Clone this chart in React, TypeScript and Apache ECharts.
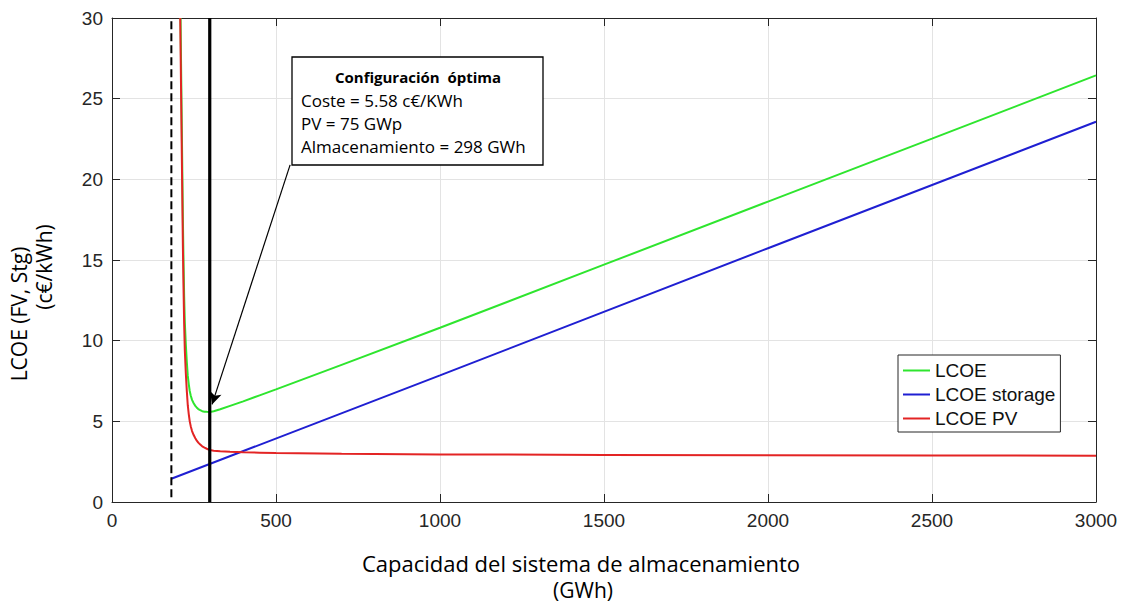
import React, { useEffect, useRef } from "react";
import * as echarts from "echarts";

// Storage capacity (GWh) sampled along each curve, with LCOE values (c€/kWh)
const pvCapacity = [208, 210, 212, 214, 216, 218, 220, 222, 225, 228, 231, 234, 237, 240, 244, 249, 254, 258, 263, 269, 275, 282, 289, 298, 310, 330, 360, 400, 450, 500, 700, 1000, 1500, 2000, 2500, 3000];
const pvLcoe = [30, 26.5, 23, 19.5, 16, 13.3, 11, 9.4, 8, 6.9, 6.0, 5.45, 5.0, 4.7, 4.4, 4.15, 3.95, 3.82, 3.68, 3.56, 3.45, 3.37, 3.3, 3.22, 3.18, 3.14, 3.11, 3.08, 3.06, 3.04, 2.99, 2.95, 2.92, 2.9, 2.88, 2.87];

const totalCapacity = [209, 210, 212, 214, 216, 218, 220, 222, 225, 228, 231, 234, 237, 240, 244, 249, 254, 258, 263, 269, 275, 282, 289, 298, 310, 330, 360, 400, 450, 500, 700, 1000, 1500, 2000, 2500, 3000];
const totalLcoe = [30, 28.17, 24.68, 21.2, 17.71, 15.03, 12.75, 11.16, 9.79, 8.71, 7.83, 7.31, 6.88, 6.6, 6.33, 6.12, 5.96, 5.86, 5.76, 5.69, 5.63, 5.6, 5.59, 5.58, 5.63, 5.75, 5.96, 6.24, 6.61, 6.98, 8.5, 10.8, 14.71, 18.62, 22.52, 26.44];

const storageCapacity = [181, 1000, 2000, 3000];
const storageLcoe = [1.44, 7.85, 15.73, 23.57];

const xTicks = { min: 0, max: 3000, interval: 500 };
const yTicks = { min: 0, max: 30, interval: 5 };

// Reference markers: lower capacity bound and optimum configuration
const minCapacity = 181;
const optimumCapacity = 298;
const optimumCost = 5.58;
const optimumPv = 75;

const seriesNames = ["LCOE", "LCOE storage", "LCOE PV"];
const seriesColors = ["#2ee52e", "#1f1fd2", "#e32424"];

const pairs = (xs: number[], ys: number[]) => xs.map((x, i) => [x, ys[i]]);

const axisGray = "#262626";
const tickFont = "Liberation Sans, Arial, sans-serif";
const textFont = "Open Sans, sans-serif";

export default function App() {
  const ref = useRef<HTMLDivElement>(null);

  useEffect(() => {
    if (!ref.current) return;
    const chart = echarts.init(ref.current, undefined, { renderer: "svg" });

    const baseAxis = {
      axisLine: { show: true, onZero: false, lineStyle: { color: axisGray, width: 1 } },
      axisTick: { show: true, inside: true, length: 8, lineStyle: { color: axisGray } },
    };

    const boxText = (text: string, y: number) => ({
      type: "text",
      x: 301,
      y,
      z: 101,
      style: {
        text,
        fontFamily: textFont,
        fontSize: 17,
        fill: "#000",
        align: "left",
        verticalAlign: "middle",
      },
    });

    const titleText = (text: string, x: number, y: number, rotated: boolean, size = 21) => ({
      type: "text",
      x,
      y,
      rotation: rotated ? Math.PI / 2 : 0,
      style: {
        text,
        fontFamily: textFont,
        fontSize: size,
        fill: "#000",
        align: "center",
        verticalAlign: "middle",
      },
    });

    chart.setOption({
      animation: false,
      backgroundColor: "#ffffff",
      grid: { left: 112, right: 26, top: 18, bottom: 103 },
      legend: {
        data: seriesNames,
        orient: "vertical",
        left: 898,
        top: 355,
        icon: "rect",
        itemWidth: 27,
        itemHeight: 2,
        itemGap: 5,
        padding: [6, 5, 4, 5],
        borderColor: axisGray,
        borderWidth: 1,
        backgroundColor: "#ffffff",
        textStyle: { fontFamily: tickFont, fontSize: 19, color: "#111", lineHeight: 19 },
      },
      xAxis: [
        {
          type: "value",
          ...xTicks,
          position: "bottom",
          ...baseAxis,
          axisLabel: {
            fontFamily: tickFont,
            fontSize: 19,
            color: axisGray,
            margin: 9,
            formatter: (v: number) => String(v),
          },
          splitLine: { show: true, lineStyle: { color: "#e3e3e3", width: 1 } },
        },
        {
          type: "value",
          ...xTicks,
          position: "top",
          ...baseAxis,
          axisLabel: { show: false },
          splitLine: { show: false },
        },
      ],
      yAxis: [
        {
          type: "value",
          ...yTicks,
          position: "left",
          ...baseAxis,
          axisLabel: { fontFamily: tickFont, fontSize: 19, color: axisGray, margin: 9 },
          splitLine: { show: true, lineStyle: { color: "#e3e3e3", width: 1 } },
        },
        {
          type: "value",
          ...yTicks,
          position: "right",
          ...baseAxis,
          axisLabel: { show: false },
          splitLine: { show: false },
        },
      ],
      series: [
        {
          name: seriesNames[0],
          type: "line",
          data: pairs(totalCapacity, totalLcoe),
          symbol: "none",
          color: seriesColors[0],
          lineStyle: { width: 2, color: seriesColors[0] },
          clip: true,
          z: 3,
        },
        {
          name: seriesNames[1],
          type: "line",
          data: pairs(storageCapacity, storageLcoe),
          symbol: "none",
          color: seriesColors[1],
          lineStyle: { width: 2, color: seriesColors[1] },
          z: 3,
        },
        {
          name: seriesNames[2],
          type: "line",
          data: pairs(pvCapacity, pvLcoe),
          symbol: "none",
          color: seriesColors[2],
          lineStyle: { width: 2, color: seriesColors[2] },
          clip: true,
          z: 3,
        },
        {
          name: "min",
          type: "line",
          data: [
            [minCapacity, 0.3],
            [minCapacity, 30],
          ],
          symbol: "none",
          lineStyle: { width: 2, color: "#000", type: [8, 4] },
          z: 4,
        },
        {
          name: "opt",
          type: "line",
          data: [
            [optimumCapacity, 0],
            [optimumCapacity, 30],
          ],
          symbol: "none",
          lineStyle: { width: 3.2, color: "#000" },
          z: 5,
          markLine: {
            silent: true,
            symbolSize: [9, 12],
            label: { show: false },
            lineStyle: { color: "#000", width: 1.2, type: "solid" },
            data: [
              [
                { coord: [543, 20.9], symbol: "none" },
                { coord: [305, 6.05], symbol: "arrow" },
              ],
            ],
          },
        },
      ],
      graphic: [
        {
          type: "rect",
          z: 100,
          shape: { x: 292, y: 57, width: 251, height: 108 },
          style: { fill: "#ffffff", stroke: "#000", lineWidth: 1.3 },
        },
        {
          type: "text",
          x: 418,
          y: 77,
          z: 101,
          style: {
            text: "Configuración  óptima",
            fontFamily: textFont,
            fontWeight: "bold",
            fontSize: 15,
            fill: "#000",
            align: "center",
            verticalAlign: "middle",
          },
        },
        boxText(`Coste = ${optimumCost} c€/KWh`, 100),
        boxText(`PV = ${optimumPv} GWp`, 123),
        boxText(`Almacenamiento = ${optimumCapacity} GWh`, 146),
        titleText("Capacidad del sistema de almacenamiento", 581, 563, false, 22),
        titleText("(GWh)", 583, 590, false),
        titleText("LCOE (FV, Stg)", 19, 314, true),
        titleText("(c€/kWh)", 44, 267, true),
      ],
    });

    return () => chart.dispose();
  }, []);

  return (
    <div
      ref={ref}
      style={{ position: "absolute", left: 0, top: 0, width: 1122, height: 605 }}
    />
  );
}
